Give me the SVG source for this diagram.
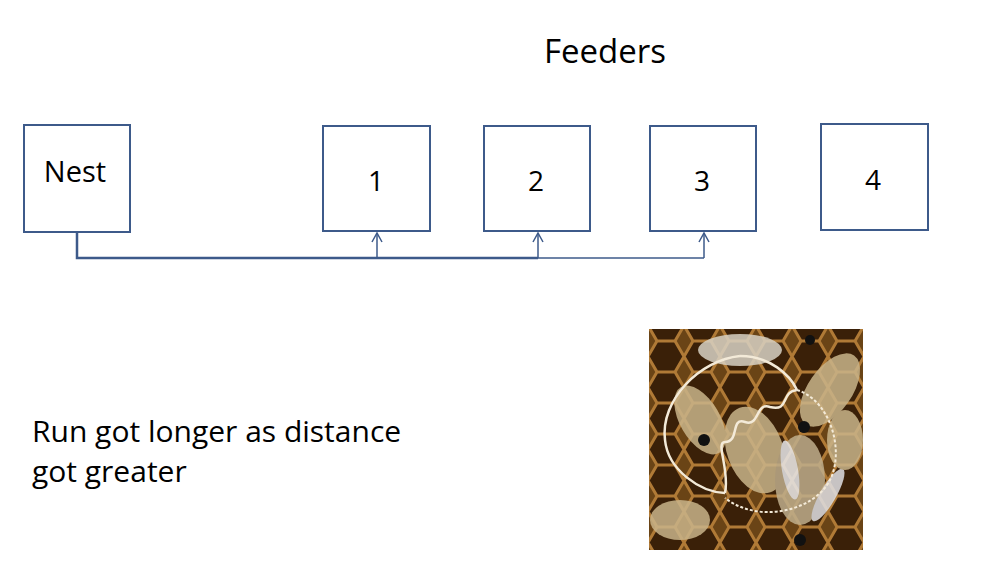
<svg xmlns="http://www.w3.org/2000/svg" width="990" height="570" viewBox="0 0 990 570">
<style>
.box{fill:#fff;stroke:#3d5a8a;stroke-width:2}
.t{font-family:"Open Sans","Liberation Sans",sans-serif;fill:#000}
.c{fill:none;stroke:#3d5a8a}
</style>
<defs>
<marker id="a" markerWidth="12" markerHeight="12" refX="11" refY="6" orient="auto" markerUnits="userSpaceOnUse" viewBox="0 0 12 12"><path d="M2,1 L11,6 L2,11" fill="none" stroke="#3d5a8a" stroke-width="1.5"/></marker>
<pattern id="hex" width="36" height="31" patternUnits="userSpaceOnUse">
<rect width="36" height="31" fill="#6a4416"/>
<path d="M9,0 L27,0 L36,15.5 L27,31 L9,31 L0,15.5 Z" fill="#3a2008" stroke="#b07a36" stroke-width="3"/>
</pattern>
</defs>
<rect width="990" height="570" fill="#fff"/>
<text class="t" x="605" y="63" font-size="33" text-anchor="middle">Feeders</text>
<g id="nest"><rect class="box" x="24" y="125" width="106" height="107"/><text class="t" x="75" y="182" font-size="29" text-anchor="middle">Nest</text></g>
<g id="f1"><rect class="box" x="323" y="126" width="107" height="105"/><text class="t" x="376" y="191" font-size="28" text-anchor="middle">1</text></g>
<g id="f2"><rect class="box" x="484" y="126" width="106" height="105"/><text class="t" x="536" y="191" font-size="28" text-anchor="middle">2</text></g>
<g id="f3"><rect class="box" x="650" y="126" width="106" height="105"/><text class="t" x="702" y="191" font-size="28" text-anchor="middle">3</text></g>
<g id="f4"><rect class="box" x="821" y="124" width="107" height="106"/><text class="t" x="873" y="190" font-size="28" text-anchor="middle">4</text></g>
<g id="connectors">
<path class="c" stroke-width="2.5" d="M77,232 V258 H538"/>
<path class="c" stroke-width="1.5" d="M538,258 H704"/>
<path class="c" stroke-width="1.5" d="M377,258 V233" marker-end="url(#a)"/>
<path class="c" stroke-width="1.5" d="M538,258 V233" marker-end="url(#a)"/>
<path class="c" stroke-width="1.5" d="M704,258 V233" marker-end="url(#a)"/>
</g>
<text class="t" x="32" y="442" font-size="30">Run got longer as distance</text>
<text class="t" x="32" y="482" font-size="30">got greater</text>
<g id="photo">
<rect x="649" y="329" width="214" height="221" fill="url(#hex)"/>
<g fill="#c9b48a" opacity="0.85">
<ellipse cx="740" cy="350" rx="42" ry="16" fill="#d8d2c4"/>
<ellipse cx="830" cy="390" rx="22" ry="42" transform="rotate(35 830 390)"/>
<ellipse cx="700" cy="420" rx="20" ry="38" transform="rotate(-30 700 420)"/>
<ellipse cx="755" cy="450" rx="28" ry="45" transform="rotate(-20 755 450)"/>
<ellipse cx="800" cy="480" rx="25" ry="45" fill="#bfae8c"/>
<ellipse cx="790" cy="470" rx="8" ry="30" fill="#e8e8ea" transform="rotate(-10 790 470)"/>
<ellipse cx="828" cy="495" rx="8" ry="30" fill="#e0e0e4" transform="rotate(30 828 495)"/>
<ellipse cx="680" cy="520" rx="30" ry="20"/>
<ellipse cx="845" cy="440" rx="18" ry="30"/>
</g>
<g fill="#111">
<circle cx="704" cy="440" r="6"/><circle cx="804" cy="427" r="6"/><circle cx="800" cy="540" r="6"/><circle cx="810" cy="340" r="5"/>
</g>
<g fill="none" stroke="#f3ead8" stroke-width="2.5">
<path d="M740,356 C700,360 660,400 665,440 C668,470 700,492 725,493"/>
<path d="M740,356 C770,356 790,375 797,390 M797,390 C780,392 790,412 770,407 C755,402 760,427 745,422 C730,417 740,442 725,442 C715,442 730,470 725,493"/>
<path d="M797,390 C830,400 845,450 830,480 C815,510 760,525 725,498" stroke-dasharray="3 2" stroke-width="2"/>
</g>
</g>
</svg>
